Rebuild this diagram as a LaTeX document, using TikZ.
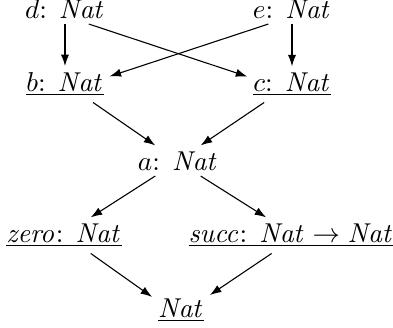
\documentclass[tikz,border=0pt]{standalone}
\usetikzlibrary{arrows.meta, positioning}

\begin{document}
\begin{tikzpicture}[
    term/.style={inner sep=2pt, anchor=base},
    arrow/.style={-{Latex[length=4.2pt, width=3pt]}, line width=0.4pt}
]
\useasboundingbox (0,0) rectangle (5.062,-4.212);

% Top row
\node[term] (d) at (0.837,-0.232) {$d$: $\mathit{Nat}$};
\node[term, right=2.924cm of d.base, anchor=base] (e) {$e$: $\mathit{Nat}$};

% Second row
\node[term, below=0.940cm of d.base, anchor=base] (b) {\underline{$b$: $\mathit{Nat}$}};
\node[term, below=0.940cm of e.base, anchor=base] (c) {\underline{$c$: $\mathit{Nat}$}};

% Middle
\node[term, below right=1.018cm and 1.455cm of b.base, anchor=base] (a) {$a$: $\mathit{Nat}$};

% Constructors
\node[term, below left=0.927cm and 1.468cm of a.base, anchor=base] (zero) {\underline{$\mathit{zero}$: $\mathit{Nat}$}};
\node[term, right=2.924cm of zero.base, anchor=base] (succ) {\underline{$\mathit{succ}$: $\mathit{Nat}\to\mathit{Nat}$}};

% Bottom
\node[term, below right=1.893cm and 0.039cm of a.base, anchor=base] (nat) {\underline{$\mathit{Nat}$}};

% Arrows
\draw[arrow] (d) -- (b);
\draw[arrow] (d.-33) -- (c.170);
\draw[arrow] (e.-147) -- (b.10);
\draw[arrow] (e) -- (c);
\draw[arrow] (b.-33) -- (a.146);
\draw[arrow] (c.-147) -- (a.34);
\draw[arrow] (a.-146) -- (zero.34);
\draw[arrow] (a.-34) -- (succ.144);
\draw[arrow] (zero.-34) -- (nat.155);
\draw[arrow] (succ.-137) -- (nat.28);

\end{tikzpicture}
\end{document}
